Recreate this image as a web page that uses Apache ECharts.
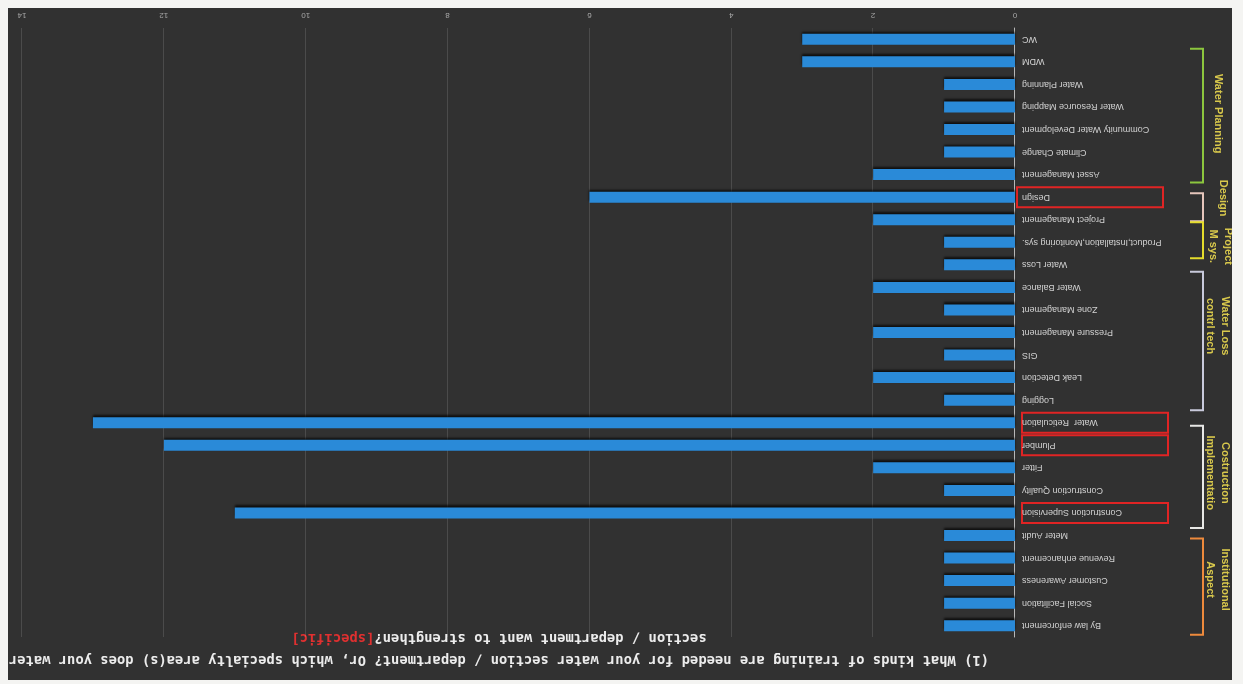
<!DOCTYPE html>
<html>
<head>
<meta charset="utf-8">
<script src="https://cdn.jsdelivr.net/npm/echarts@6/dist/echarts.min.js"></script>
<style>
  html, body { margin: 0; padding: 0; background: #f4f4f2; }
  /* the scanned reference is upside down, so the whole sheet is turned */
  #page { position: relative; width: 1243px; height: 684px; transform: rotate(180deg); background: #f4f4f2; overflow: hidden; }
  #chart { position: absolute; left: 11px; top: 4px; width: 1224px; height: 672px; }
</style>
</head>
<body>
<div id="page"><div id="chart"></div></div>
<script>
// bottom to top, as the category axis draws them
const categories = [
  "WC", "WDM", "Water Planning", "Water Resource Mapping", "Community Water Development",
  "Climate Change", "Asset Management", "Design", "Project Management",
  "Product,Installation,Monitoring sys.", "Water Loss", "Water Balance", "Zone Management",
  "Pressure Management", "GIS", "Leak Detection", "Logging", "Water  Reticulation",
  "Plumber", "Fitter", "Construction Quality", "Construction Supervision", "Meter Audit",
  "Revenue enhancement", "Customer Awareness", "Social Facilitation", "By law enforcement"
];
const counts = [3, 3, 1, 1, 1, 1, 2, 6, 2, 1, 1, 2, 1, 2, 1, 2, 1, 13, 12, 2, 1, 11, 1, 1, 1, 1, 1];

const boxed = ["Design", "Water  Reticulation", "Plumber", "Construction Supervision"];

const groupNames = ["Water Planning", "Design", "Project\nM sys.", "Water Loss\ncontrl tech", "Costruction\nImplementatio", "Institutional\nAspect"];
const groupFrom = ["Asset Management", "Design", "Product,Installation,Monitoring sys.", "Logging", "Construction Supervision", "By law enforcement"];
const groupTo = ["WDM", "Design", "Product,Installation,Monitoring sys.", "Water Loss", "Water  Reticulation", "Meter Audit"];
const groupColors = ["#8cc63e", "#e6c6bc", "#e4dc2c", "#c9cadc", "#e8e8e6", "#ee8a3c"];
// pixel padding of each bracket end, and offset of its caption
const groupPad = [[-8, 13], [-24, 4], [-16, 20], [-10, -7], [-15, -3], [-9, -3]];
const groupLabelShift = [[14, 2], [9, 9], [11, -6], [14, 15], [14, 4], [14, 7]];

const chartDom = document.getElementById("chart");
const chart = echarts.init(chartDom);

chart.setOption({
  backgroundColor: "#313131",
  animation: false,
  grid: { left: 217, right: 14, top: 43, bottom: 20 },
  xAxis: {
    type: "value",
    min: 0,
    max: 14,
    interval: 2,
    axisLine: { show: false },
    axisTick: { show: false },
    axisLabel: { color: "#a8a8a8", fontSize: 8, margin: 9, fontFamily: "Liberation Sans" },
    splitLine: { lineStyle: { color: "rgba(255,255,255,0.13)", width: 1 } }
  },
  yAxis: {
    type: "category",
    data: categories,
    axisLine: { lineStyle: { color: "#b8b8b8", width: 1 } },
    axisTick: { show: false },
    axisLabel: { color: "#d2d2d2", fontSize: 9, margin: 7, fontFamily: "Liberation Sans", interval: 0 }
  },
  series: [{
    type: "bar",
    data: counts,
    barWidth: 11,
    itemStyle: {
      color: "#2a8ad8",
      shadowColor: "rgba(0,0,0,0.7)",
      shadowBlur: 2,
      shadowOffsetY: 2
    }
  }],
  graphic: [{
    type: "text",
    x: 733,
    y: 9,
    style: {
      text: "(1) What kinds of training are needed for your water section / department? Or, which specialty area(s) does your water\nsection / department want to strengthen?{r|[specific]}",
      align: "center",
      verticalAlign: "top",
      fill: "#ececec",
      font: "bold 13.8px 'DejaVu Sans Mono'",
      lineHeight: 22,
      rich: { r: { fill: "#e03030", font: "bold 13.8px 'DejaVu Sans Mono'", lineHeight: 22 } }
    }
  }]
});

const yOf = name => chart.convertToPixel({ yAxisIndex: 0 }, name);
const extras = [];

boxed.forEach(name => {
  const y = yOf(name);
  const left = name === "Design" ? 69 : 64;
  extras.push({
    type: "rect",
    shape: { x: left, y: y - 10, width: 146, height: 20 },
    style: { fill: "none", stroke: "#e02424", lineWidth: 2 }
  });
});

groupNames.forEach((label, i) => {
  const a = yOf(groupFrom[i]);
  const b = yOf(groupTo[i]);
  const top = Math.min(a, b) + groupPad[i][0];
  const bottom = Math.max(a, b) + groupPad[i][1];
  extras.push({
    type: "polyline",
    shape: { points: [[42, top], [29, top], [29, bottom], [42, bottom]] },
    style: { stroke: groupColors[i], lineWidth: 2, fill: "none" }
  });
  extras.push({
    type: "text",
    x: groupLabelShift[i][0],
    y: (top + bottom) / 2 + groupLabelShift[i][1],
    rotation: Math.PI / 2,
    style: {
      text: label,
      align: "center",
      verticalAlign: "middle",
      fill: "#d8c84c",
      font: "bold 11px 'Liberation Sans'",
      lineHeight: 15
    }
  });
});

chart.setOption({ graphic: extras.map((g, i) => Object.assign({ id: "extra" + i }, g)) });
</script>
</body>
</html>
